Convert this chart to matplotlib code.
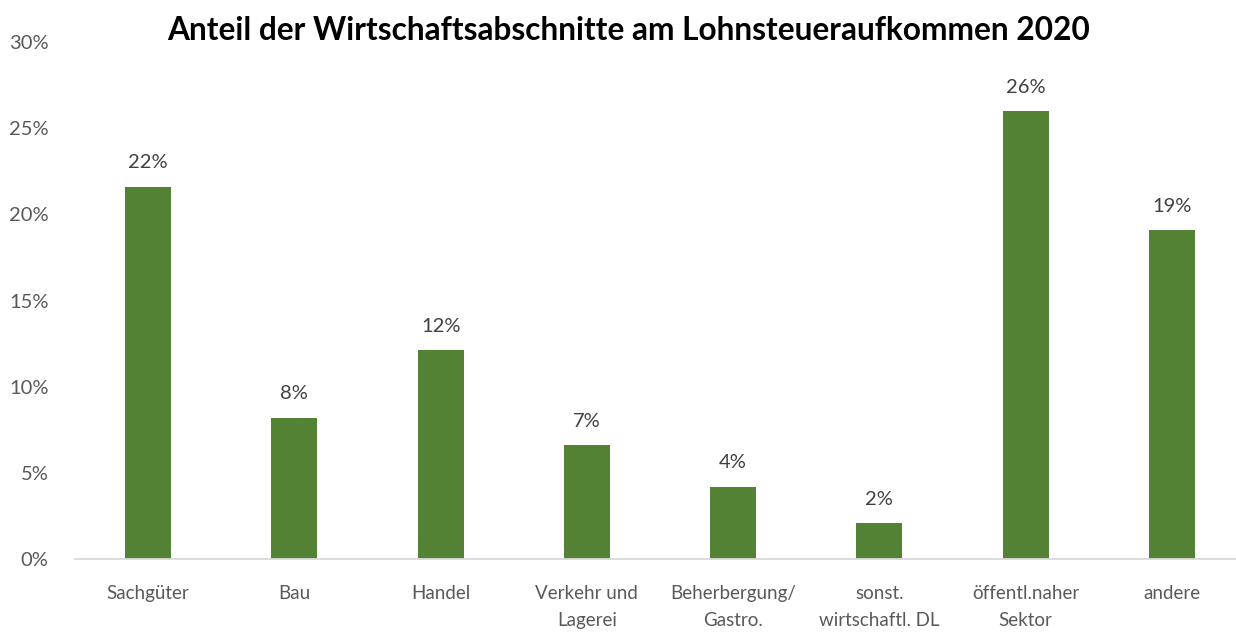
import matplotlib
matplotlib.use("Agg")
import matplotlib.pyplot as plt
from matplotlib.ticker import FuncFormatter

categories = ["Sachgüter", "Bau", "Handel", "Verkehr und\nLagerei", "Beherbergung/\nGastro.",
              "sonst.\nwirtschaftl. DL", "öffentl.naher\nSektor", "andere"]
values = [21.6, 8.2, 12.1, 6.6, 4.2, 2.1, 26.0, 19.1]
labels = ["22%", "8%", "12%", "7%", "4%", "2%", "26%", "19%"]
yticks = [0, 5, 10, 15, 20, 25, 30]

plt.rcParams['font.family'] = ['Lato', 'DejaVu Sans']

fig = plt.figure(figsize=(12.36, 6.34), dpi=100)
ax = fig.add_axes([75/1236, 75/634, 1170/1236, 517/634])

x = range(len(categories))
ax.bar(x, values, width=0.315, color="#548235")
for xi, v, l in zip(x, values, labels):
    ax.annotate(l, (xi, v), xytext=(0, 11), textcoords="offset points",
                ha="center", va="bottom", fontsize=14.5, color="#404040")

ax.set_xlim(-0.5, len(categories) - 0.5)
ax.set_ylim(0, 30)
ax.set_yticks(yticks)
ax.yaxis.set_major_formatter(FuncFormatter(lambda v, p: f"{v:.0f}%"))
ax.set_xticks(list(x))
ax.set_xticklabels(categories, fontsize=13.5, color="#595959", linespacing=1.75)
ax.tick_params(axis='y', labelsize=14.5, labelcolor="#595959", length=0, pad=19)
ax.tick_params(axis='x', length=0, pad=18.5)
for s in ["top", "right", "left"]:
    ax.spines[s].set_visible(False)
ax.spines["bottom"].set_color("#D9D9D9")
ax.spines["bottom"].set_linewidth(1.3)

fig.text(629/1236, 1 - 30/634, "Anteil der Wirtschaftsabschnitte am Lohnsteueraufkommen 2020",
         ha="center", va="center", fontsize=22.8, fontweight="bold", color="black")

fig.savefig("out.png", dpi=100)
